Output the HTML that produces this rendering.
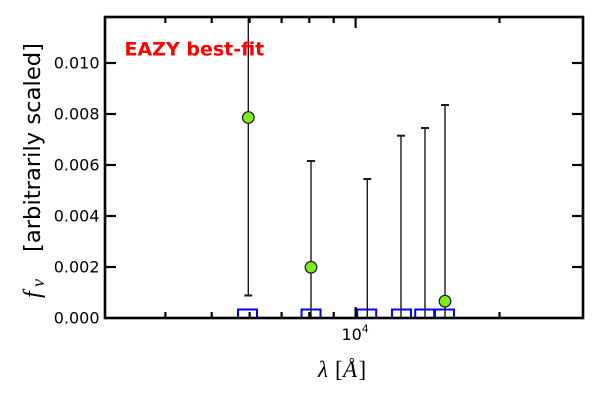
<!DOCTYPE html>
<html>
<head>
<meta charset="utf-8">
<style>
  html, body { margin:0; padding:0; background:#ffffff; }
  svg { display:block; }
</style>
</head>
<body>
<svg width="600" height="400" viewBox="0 0 600 400" xmlns="http://www.w3.org/2000/svg">
  <defs>
    <clipPath id="ax">
      <rect x="105" y="17" width="478" height="301"/>
    </clipPath>
  </defs>
  <rect x="0" y="0" width="600" height="400" fill="#ffffff"/>

  <!-- data (clipped) -->
  <g clip-path="url(#ax)">
    <!-- blue bandpass squares -->
    <g fill="none" stroke="#0000ff" stroke-width="2">
      <rect x="238" y="309.5" width="19" height="18"/>
      <rect x="301.5" y="309.5" width="19" height="18"/>
      <rect x="357.2" y="309.5" width="19" height="18"/>
      <rect x="392" y="309.5" width="19" height="18"/>
      <rect x="415.2" y="309.5" width="19" height="18"/>
      <rect x="435" y="309.5" width="19" height="18"/>
    </g>
    <!-- error bars -->
    <g stroke="#1a1a1a" stroke-width="1.4" fill="none">
      <line x1="248.3" y1="10" x2="248.3" y2="295.5"/>
      <line x1="244.3" y1="295.5" x2="252.3" y2="295.5" stroke-width="2"/>
      <line x1="311" y1="161" x2="311" y2="330"/>
      <line x1="307" y1="161" x2="315" y2="161" stroke-width="2"/>
      <line x1="367.3" y1="179" x2="367.3" y2="330"/>
      <line x1="363.3" y1="179" x2="371.3" y2="179" stroke-width="2"/>
      <line x1="401" y1="135.7" x2="401" y2="330"/>
      <line x1="397" y1="135.7" x2="405" y2="135.7" stroke-width="2"/>
      <line x1="425" y1="128" x2="425" y2="330"/>
      <line x1="421" y1="128" x2="429" y2="128" stroke-width="2"/>
      <line x1="445" y1="105" x2="445" y2="330"/>
      <line x1="441" y1="105" x2="449" y2="105" stroke-width="2"/>
    </g>
    <!-- points -->
    <g fill="#80ec20" stroke="#1a1a1a" stroke-width="1.2">
      <circle cx="248.3" cy="117.5" r="5.8"/>
      <circle cx="311" cy="267.3" r="5.8"/>
      <circle cx="445" cy="301.2" r="5.8"/>
    </g>
  </g>

  <!-- ticks -->
  <g stroke="#000" stroke-width="2.2">
    <line x1="105" y1="267" x2="116" y2="267"/>
    <line x1="105" y1="216" x2="116" y2="216"/>
    <line x1="105" y1="165" x2="116" y2="165"/>
    <line x1="105" y1="114" x2="116" y2="114"/>
    <line x1="105" y1="63" x2="116" y2="63"/>
    <line x1="583" y1="267" x2="572" y2="267"/>
    <line x1="583" y1="216" x2="572" y2="216"/>
    <line x1="583" y1="165" x2="572" y2="165"/>
    <line x1="583" y1="114" x2="572" y2="114"/>
    <line x1="583" y1="63" x2="572" y2="63"/>
    <line x1="355.6" y1="318" x2="355.6" y2="307"/>
    <line x1="355.6" y1="17" x2="355.6" y2="28"/>
    <line x1="165.4" y1="318" x2="165.4" y2="312"/>
    <line x1="211.7" y1="318" x2="211.7" y2="312"/>
    <line x1="249.6" y1="318" x2="249.6" y2="312"/>
    <line x1="281.6" y1="318" x2="281.6" y2="312"/>
    <line x1="309.3" y1="318" x2="309.3" y2="312"/>
    <line x1="333.7" y1="318" x2="333.7" y2="312"/>
    <line x1="499.5" y1="318" x2="499.5" y2="312"/>
    <line x1="165.4" y1="17" x2="165.4" y2="23"/>
    <line x1="211.7" y1="17" x2="211.7" y2="23"/>
    <line x1="249.6" y1="17" x2="249.6" y2="23"/>
    <line x1="281.6" y1="17" x2="281.6" y2="23"/>
    <line x1="309.3" y1="17" x2="309.3" y2="23"/>
    <line x1="333.7" y1="17" x2="333.7" y2="23"/>
    <line x1="499.5" y1="17" x2="499.5" y2="23"/>
  </g>

  <!-- frame -->
  <rect x="105" y="17" width="478" height="301" fill="none" stroke="#000" stroke-width="2.6"/>

  <!-- y tick labels -->
  <g font-family="DejaVu Sans, 'Liberation Sans', sans-serif" font-size="16" fill="#000" text-anchor="end">
    <text x="99.5" y="323.5">0.000</text>
    <text x="99.5" y="272.5">0.002</text>
    <text x="99.5" y="221.5">0.004</text>
    <text x="99.5" y="170.5">0.006</text>
    <text x="99.5" y="119.5">0.008</text>
    <text x="99.5" y="68.5">0.010</text>
  </g>

  <!-- x tick label 10^4 -->
  <text x="341.5" y="340" font-family="DejaVu Sans, 'Liberation Sans', sans-serif" font-size="16" fill="#000">10</text>
  <text x="361.8" y="332.5" font-family="DejaVu Sans, 'Liberation Sans', sans-serif" font-size="11" fill="#000">4</text>

  <!-- annotation -->
  <text x="124.5" y="55.7" font-family="DejaVu Sans, 'Liberation Sans', sans-serif" font-size="19" font-weight="bold" fill="#ff0000">EAZY best-fit</text>

  <!-- x label -->
  <g font-family="'Liberation Serif', 'DejaVu Serif', serif" font-size="23" fill="#000">
    <text x="318" y="377" font-style="italic">λ</text>
    <text x="335" y="377">[</text>
    <text x="343" y="377" font-style="italic">Å</text>
    <text x="358.5" y="377">]</text>
  </g>

  <!-- y label -->
  <g fill="#000">
    <text transform="translate(40,298) rotate(-90)" font-family="'Liberation Serif', 'DejaVu Serif', serif" font-style="italic" font-size="24">f</text>
    <text transform="translate(44,287) rotate(-90)" font-family="'Liberation Serif', 'DejaVu Serif', serif" font-style="italic" font-size="18">ν</text>
    <text transform="translate(40,252) rotate(-90)" font-family="DejaVu Sans, 'Liberation Sans', sans-serif" font-size="22.5" textLength="209" lengthAdjust="spacingAndGlyphs">[arbitrarily scaled]</text>
  </g>
</svg>
</body>
</html>
